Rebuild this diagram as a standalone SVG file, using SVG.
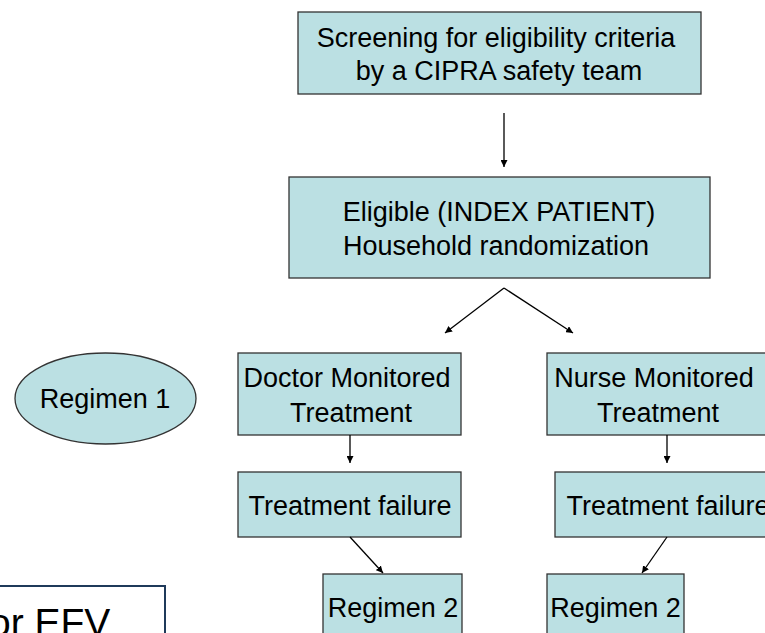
<svg xmlns="http://www.w3.org/2000/svg" width="765" height="633" viewBox="0 0 765 633">
  <style>
    .box { fill: #BBE0E3; stroke: #333333; stroke-width: 1.3; }
    .lbl { font-family: "Liberation Sans", Arial, sans-serif; font-size: 27px; fill: #000000; text-anchor: middle; }
    .edge { stroke: #000000; stroke-width: 1.3; fill: none; marker-end: url(#head); }
  </style>
  <defs>
    <marker id="head" viewBox="0 0 10 10" refX="10" refY="5" markerWidth="7" markerHeight="7" markerUnits="userSpaceOnUse" orient="auto">
      <path d="M0,0 L10,5 L0,10 Z" fill="#000000"/>
    </marker>
  </defs>
  <rect width="765" height="633" fill="#ffffff"/>

  <g id="screening">
    <rect class="box" x="298" y="12" width="403" height="82"/>
    <text class="lbl" x="496" y="47">Screening for eligibility criteria</text>
    <text class="lbl" x="499" y="80">by a CIPRA safety team</text>
  </g>

  <g id="eligible">
    <rect class="box" x="289" y="177" width="421" height="101"/>
    <text class="lbl" x="499" y="221">Eligible (INDEX PATIENT)</text>
    <text class="lbl" x="496" y="255">Household randomization</text>
  </g>

  <g id="regimen1">
    <ellipse class="box" cx="105.5" cy="398.5" rx="90.5" ry="45.5"/>
    <text class="lbl" x="105" y="408">Regimen 1</text>
  </g>

  <g id="doctor">
    <rect class="box" x="238" y="353" width="223" height="82"/>
    <text class="lbl" x="347" y="387">Doctor Monitored</text>
    <text class="lbl" x="351" y="422">Treatment</text>
  </g>

  <g id="doctor-failure">
    <rect class="box" x="238" y="472" width="223" height="65"/>
    <text class="lbl" x="350" y="515">Treatment failure</text>
  </g>

  <g id="doctor-regimen2">
    <rect class="box" x="323" y="574" width="139" height="70"/>
    <text class="lbl" x="393" y="617">Regimen 2</text>
  </g>

  <g id="nurse">
    <rect class="box" x="547" y="353" width="222" height="82"/>
    <text class="lbl" x="654" y="387">Nurse Monitored</text>
    <text class="lbl" x="658" y="422">Treatment</text>
  </g>

  <g id="nurse-failure">
    <rect class="box" x="555" y="472" width="214" height="65"/>
    <text class="lbl" x="668" y="515">Treatment failure</text>
  </g>

  <g id="nurse-regimen2">
    <rect class="box" x="547" y="574" width="137" height="70"/>
    <text class="lbl" x="615.5" y="617">Regimen 2</text>
  </g>

  <g id="efv-note">
    <rect x="-20" y="586" width="185" height="70" fill="#ffffff" stroke="#1F3A5A" stroke-width="2"/>
    <text x="-11" y="636" font-family="Liberation Sans, Arial, sans-serif" font-size="39" fill="#000000">or EFV</text>
  </g>

  <g id="connectors">
    <line class="edge" x1="504" y1="113" x2="504" y2="167"/>
    <line class="edge" x1="504" y1="288" x2="445" y2="333"/>
    <line class="edge" x1="504" y1="288" x2="573" y2="333"/>
    <line class="edge" x1="350" y1="435" x2="350" y2="463"/>
    <line class="edge" x1="350" y1="537" x2="383" y2="573"/>
    <line class="edge" x1="667" y1="435" x2="667" y2="463"/>
    <line class="edge" x1="667" y1="537" x2="642" y2="573"/>
  </g>
</svg>
